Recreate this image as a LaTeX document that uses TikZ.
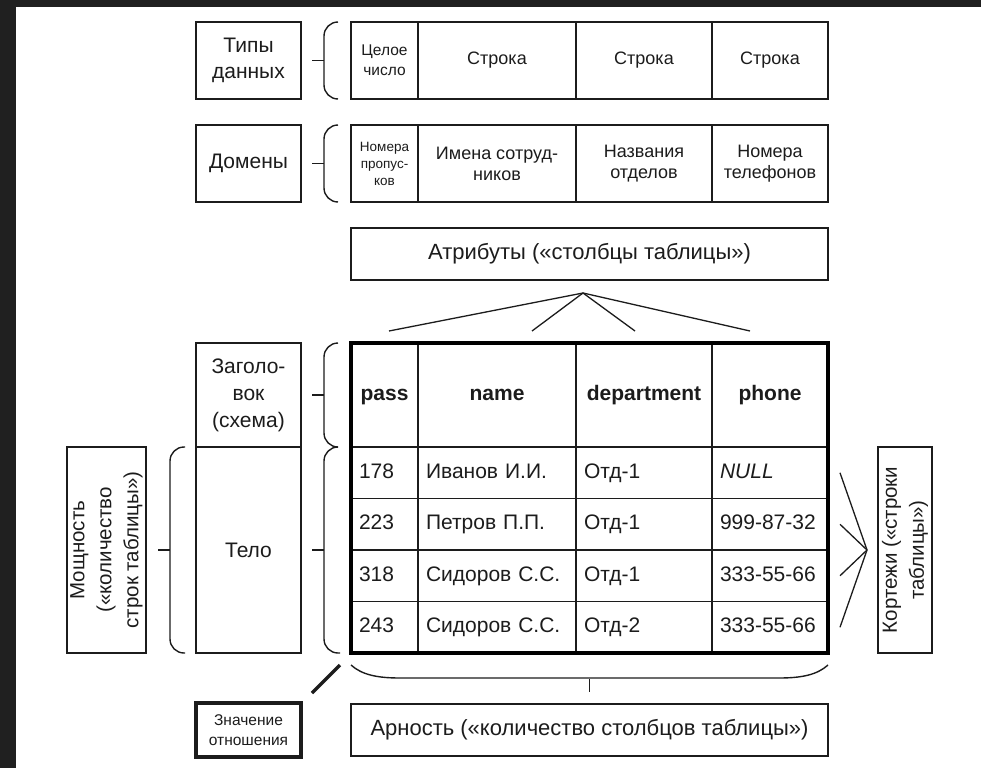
\documentclass[tikz,border=0pt]{standalone}
\usepackage{fontspec}
\setmainfont{Liberation Sans}
\usetikzlibrary{positioning}
\definecolor{FrameDark}{HTML}{202020}
\definecolor{InkGray}{HTML}{1C1C1C}
\tikzset{
  % Box styles
  namebox/.style={rectangle, draw=InkGray, line width=1.6pt, minimum width=105pt, inner sep=2pt, outer sep=0pt, align=center, text=InkGray, font=\fontsize{21}{26}\selectfont},
  widebox/.style={namebox, minimum width=477pt, minimum height=52pt, font=\fontsize{22}{26}\selectfont},
  cellbox/.style={rectangle, draw=InkGray, line width=1.6pt, minimum height=77pt, inner sep=0pt, outer sep=0pt, align=center, anchor=west, text=InkGray, font=\fontsize{18}{21}\selectfont},
  headcell/.style={cellbox, minimum height=104pt, text height=15pt, text depth=4.5pt, font=\fontsize{21}{24}\selectfont\bfseries},
  bodycell/.style={cellbox, minimum height=51.5pt, minimum width=#1, inner xsep=8pt, text width=#1-16pt, text height=15pt, text depth=4.5pt, align=left, font=\fontsize{21}{24}\selectfont},
  % Line styles
  bracket/.style={line width=1.4pt, InkGray, rounded corners=14pt},
  tick/.style={line width=1.4pt, InkGray},
  link/.style={line width=1.3pt, InkGray}
}

\begin{document}
\begin{tikzpicture}[x=1pt, y=-1pt]
  % Frame
  \fill[FrameDark] (0,0) rectangle (981,768);
  \fill[white] (16,7) rectangle (981,768);

  % Left labels
  \node[namebox, minimum height=77pt] (types) at (248.5,60.5) {Типы\\данных};
  \node[namebox, minimum height=77pt, below=26pt of types] (domains) {Домены};
  \node[namebox, minimum height=104pt, font=\fontsize{21}{27}\selectfont] (header) at (248.5,395) {Заголо-\\вок\\(схема)};
  \node[namebox, minimum height=206pt, below=0pt of header] (tbody) {Тело};
  \node[namebox, line width=4pt, minimum height=54pt, font=\fontsize{15.5}{20}\selectfont] (relval) at (248.5,730) {Значение\\отношения};

  % Side labels
  \node[namebox, rotate=90, minimum width=206pt, minimum height=79pt, font=\fontsize{20.5}{27}\selectfont] (power) at (106.5,550) {Мощность\\(«количество\\строк таблицы»)};
  \node[namebox, rotate=90, minimum width=206pt, minimum height=54pt, font=\fontsize{20.5}{27}\selectfont] (tuples) at (905,550) {Кортежи («строки\\таблицы»)};

  % Data types row
  \node[cellbox, minimum width=67pt, font=\fontsize{15.5}{20}\selectfont] (tint) at (351,60.5) {Целое\\число};
  \node[cellbox, minimum width=158pt, right=0pt of tint] (tstr1) {Строка};
  \node[cellbox, minimum width=136pt, right=0pt of tstr1] (tstr2) {Строка};
  \node[cellbox, minimum width=116pt, right=0pt of tstr2] (tstr3) {Строка};

  % Domains row
  \node[cellbox, minimum width=67pt, font=\fontsize{13.5}{17}\selectfont] (dpass) at (351,163.5) {Номера\\пропус-\\ков};
  \node[cellbox, minimum width=158pt, right=0pt of dpass] (dname) {Имена сотруд-\\ников};
  \node[cellbox, minimum width=136pt, right=0pt of dname] (ddep) {Названия\\отделов};
  \node[cellbox, minimum width=116pt, right=0pt of ddep] (dphone) {Номера\\телефонов};

  % Attributes and arity
  \node[widebox] (attrs) at (589.5,254) {Атрибуты («столбцы таблицы»)};
  \node[widebox] (arity) at (589.5,730) {Арность («количество столбцов таблицы»)};

  % Table header
  \node[headcell, minimum width=67pt] (hpass) at (351,395) {pass};
  \node[headcell, minimum width=158pt, right=0pt of hpass] (hname) {name};
  \node[headcell, minimum width=136pt, right=0pt of hname] (hdep) {department};
  \node[headcell, minimum width=116pt, right=0pt of hdep] (hphone) {phone};

  % Table body
  \foreach \pnum/\pname/\pdept/\pphone [count=\i] in {178/Иванов И.И./Отд-1/\textit{NULL}, 223/Петров П.П./Отд-1/999-87-32, 318/Сидоров С.С./Отд-1/333-55-66, 243/Сидоров С.С./Отд-2/333-55-66} {
    \node[bodycell=67pt] (pass\i) at (351,{421.25+51.5*\i}) {\pnum};
    \node[bodycell=158pt, right=0pt of pass\i] (name\i) {\pname};
    \node[bodycell=136pt, right=0pt of name\i] (dep\i) {\pdept};
    \node[bodycell=116pt, right=0pt of dep\i] (ph\i) {\pphone};
  }
  \draw[line width=4pt, black] (hpass.north west) rectangle (ph4.south east);

  % Brackets
  \draw[bracket] (338,22) -- (324,22) -- (324,99) -- (338,99);
  \draw[tick] (312,60.5) -- (324,60.5);
  \draw[bracket] (338,125) -- (324,125) -- (324,202) -- (338,202);
  \draw[tick] (312,163.5) -- (324,163.5);
  \draw[bracket] (338,343) -- (324,343) -- (324,447) -- (338,447);
  \draw[tick] (312,395) -- (324,395);
  \draw[bracket] (338,447) -- (324,447) -- (324,653) -- (340,653);
  \draw[tick] (312,550) -- (324,550);
  \draw[bracket] (185,447) -- (170,447) -- (170,653) -- (185,653);
  \draw[tick] (158,550) -- (170,550);
  \draw[bracket, rounded corners=0pt] (351,665) .. controls (362,675) and (378,678) .. (400,678) -- (779,678) .. controls (801,678) and (817,675) .. (828,665);
  \draw[tick] (589.5,679) -- (589.5,692);

  % Attribute lines
  \coordinate (attrtip) at (583,293);
  \foreach \x in {389,532,635,750}
    \draw[link] (attrtip) -- (\x,331);

  % Tuple lines
  \coordinate (tupletip) at (867,550);
  \foreach \i in {1,...,4}
    \draw[link] (tupletip) -- ([xshift=12pt]ph\i.east);

  % Relation value mark
  \coordinate (slashtop) at (340,665);
  \coordinate (slashend) at (312,693);
  \draw[line width=3.5pt, InkGray] (slashtop) -- (slashend);
\end{tikzpicture}
\end{document}
